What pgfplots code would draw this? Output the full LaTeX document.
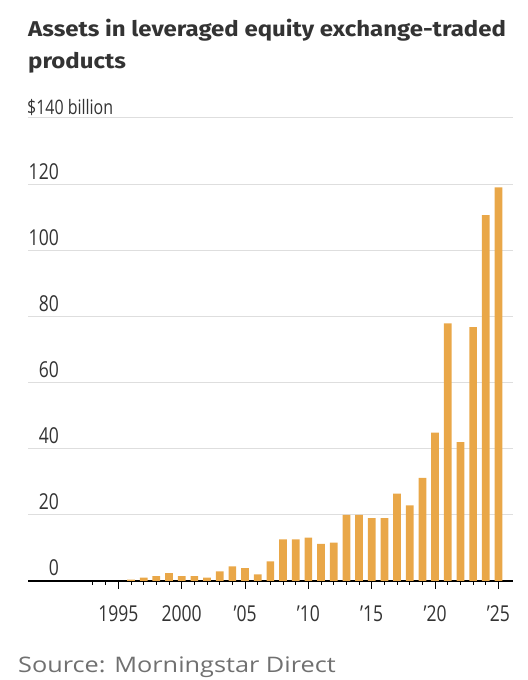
\documentclass[border=0pt]{standalone}
\usepackage{fontspec}
\usepackage{pgfplots}
\pgfplotsset{compat=1.18}
\setmainfont{Open Sans}
\newfontfamily\titlefont[FakeStretch=1.12]{Fira Sans}
\newfontfamily\tickfont[FakeStretch=0.8]{Open Sans}
\newfontfamily\srcfont[FakeStretch=1.18]{Open Sans}
\definecolor{barc}{HTML}{E9A748}
\definecolor{txt}{HTML}{333333}
\definecolor{src}{HTML}{707070}
\definecolor{gridc}{HTML}{DEDEDE}
\begin{document}
\begin{tikzpicture}[x=1bp,y=1bp]
\path[use as bounding box] (0,0) rectangle (528,680);
\begin{axis}[
  at={(28bp,99bp)}, anchor=south west,
  scale only axis, width=485bp, height=463bp,
  xmin=1987.87, xmax=2026.15, ymin=0, ymax=140,
  axis x line*=bottom, axis y line*=left,
  x axis line style={black, line width=1.2bp, -},
  y axis line style={draw=none},
  ytick={0,20,...,140},
  yticklabels={0,20,40,60,80,100,120,{}},
  major y tick style={draw=none},
  ymajorgrids, grid style={gridc, line width=1bp},
  xtick={1995,2000,2005,2010,2015,2020,2025},
  xticklabels={1995,2000,’05,’10,’15,’20,’25},
  minor xtick={1993,...,2025},
  tick align=outside,
  major tick length=8bp, minor tick length=4bp,
  every x tick/.style={black, line width=1bp},
  every minor x tick/.style={black, line width=1bp},
  xticklabel style={anchor=base, inner sep=0pt, yshift=-32bp, font=\tickfont\fontsize{22}{24}\selectfont, text=txt},
  yticklabel style={anchor=base east, inner sep=0pt, xshift=39bp, yshift=5bp, font=\tickfont\fontsize{22}{24}\selectfont, text=txt},
  clip=false,
]
\addplot[ybar, bar width=7.7bp, fill=barc, draw=none] coordinates {
(1996,0.4) (1997,1.0) (1998,1.5) (1999,2.4) (2000,1.5) (2001,1.5) (2002,1.0)
(2003,2.9) (2004,4.4) (2005,3.9) (2006,2.0) (2007,5.9) (2008,12.6) (2009,12.6)
(2010,13.1) (2011,11.2) (2012,11.6) (2013,20.0) (2014,20.0) (2015,19.0) (2016,19.0)
(2017,26.4) (2018,22.9) (2019,31.2) (2020,44.9) (2021,77.9) (2022,42.0) (2023,76.8)
(2024,110.6) (2025,119.0)
};
\end{axis}
\node[anchor=base west, inner sep=0pt, text=txt, font=\titlefont\bfseries\fontsize{21.5}{26}\selectfont] at (28,643) {Assets in leveraged equity exchange-traded};
\node[anchor=base west, inner sep=0pt, text=txt, font=\titlefont\bfseries\fontsize{21.5}{26}\selectfont] at (28,611) {products};
\node[anchor=base west, inner sep=0pt, text=txt, font=\tickfont\fontsize{20}{22}\selectfont] at (27,565) {\$140 billion};
\node[anchor=base west, inner sep=0pt, text=src, font=\srcfont\fontsize{21.5}{24}\selectfont] at (18,7) {Source: Morningstar Direct};
\end{tikzpicture}
\end{document}
